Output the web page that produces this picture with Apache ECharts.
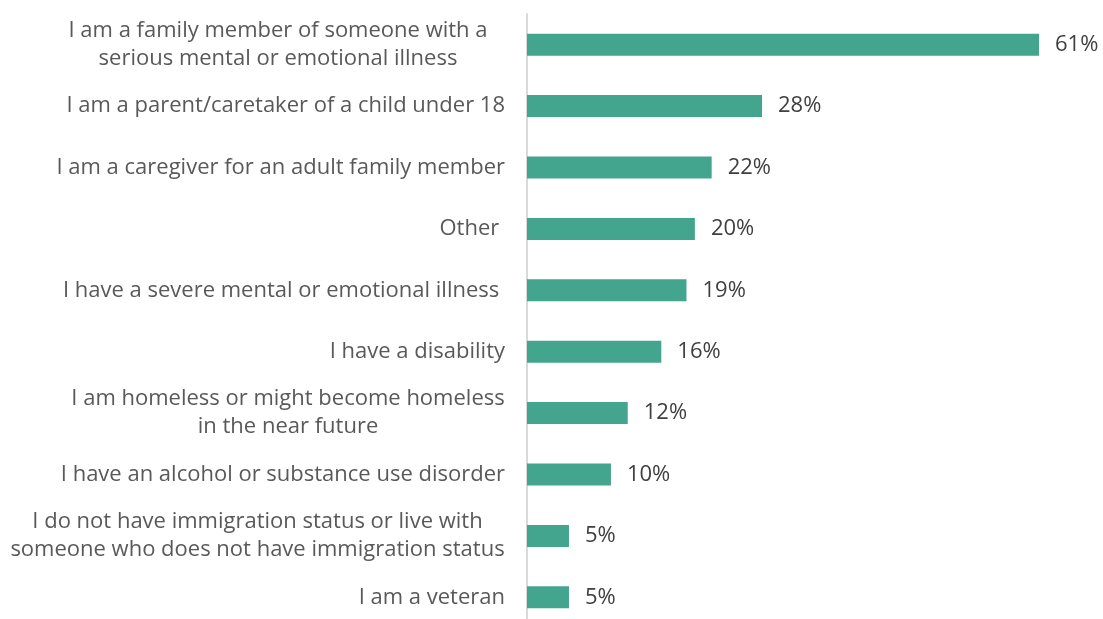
<!DOCTYPE html>
<html>
<head>
<meta charset="utf-8">
<script src="https://cdn.jsdelivr.net/npm/echarts@6/dist/echarts.min.js"></script>
<style>
  html, body { margin: 0; padding: 0; background: #fff; }
  #chart { width: 1103px; height: 619px; }
</style>
</head>
<body>
<div id="chart"></div>
<script>
// Respondent groups, listed top to bottom
const categories = [
  'I am a family member of someone with a\nserious mental or emotional illness',
  'I am a parent/caretaker of a child under 18',
  'I am a caregiver for an adult family member',
  'Other ',
  'I have a severe mental or emotional illness ',
  'I have a disability',
  'I am homeless or might become homeless\nin the near future',
  'I have an alcohol or substance use disorder',
  'I do not have immigration status or live with\nsomeone who does not have immigration status',
  'I am a veteran'
];
// Share of respondents, percent
const shares = [61, 28, 22, 20, 19, 16, 12, 10, 5, 5];

const FONT = 'Open Sans';
const LABEL_SIZE = 22;
const LABEL_COLOR = '#595959';

// Wrapped labels: lines centred inside a block that is right-aligned to the axis
const ctx = document.createElement('canvas').getContext('2d');
ctx.font = LABEL_SIZE + 'px "' + FONT + '"';
const rich = {};
function blockKey(idx) {
  return 'b' + idx;
}
categories.forEach((t, i) => {
  const lines = t.split('\n');
  if (lines.length > 1) {
    const w = Math.ceil(Math.max(...lines.map(l => ctx.measureText(l).width)));
    rich[blockKey(i)] = {
      width: w, align: 'center', fontSize: LABEL_SIZE, lineHeight: 28,
      color: LABEL_COLOR, fontFamily: FONT,
      // the first block sits a little further left of the axis
      padding: i === 0 ? [0, 17, 0, 0] : 0
    };
  }
});
function formatLabel(text, idx) {
  const lines = text.split('\n');
  if (lines.length < 2) return text;
  const key = blockKey(idx);
  return lines.map(l => '{' + key + '|' + l + '}').join('\n');
}

const chart = echarts.init(document.getElementById('chart'));
chart.setOption({
  animation: false,
  textStyle: { fontFamily: FONT },
  grid: {
    left: 527, width: 554, top: 14, height: 614,
    containLabel: false, outerBoundsMode: 'none'
  },
  xAxis: {
    type: 'value', min: 0, max: 66,
    show: false
  },
  yAxis: {
    type: 'category',
    data: categories,
    inverse: true,
    axisLine: { show: true, lineStyle: { color: '#d9d9d9', width: 2 } },
    axisTick: { show: false },
    axisLabel: {
      margin: 22,
      color: LABEL_COLOR,
      fontSize: LABEL_SIZE,
      lineHeight: 28,
      align: 'right',
      fontFamily: FONT,
      formatter: formatLabel,
      rich: rich
    }
  },
  series: [{
    type: 'bar',
    data: shares,
    barWidth: 22,
    itemStyle: { color: '#43A58E' },
    label: {
      show: true,
      position: 'right',
      distance: 16,
      formatter: '{c}%',
      color: '#404040',
      fontSize: 22,
      fontFamily: FONT
    }
  }]
});
</script>
</body>
</html>
